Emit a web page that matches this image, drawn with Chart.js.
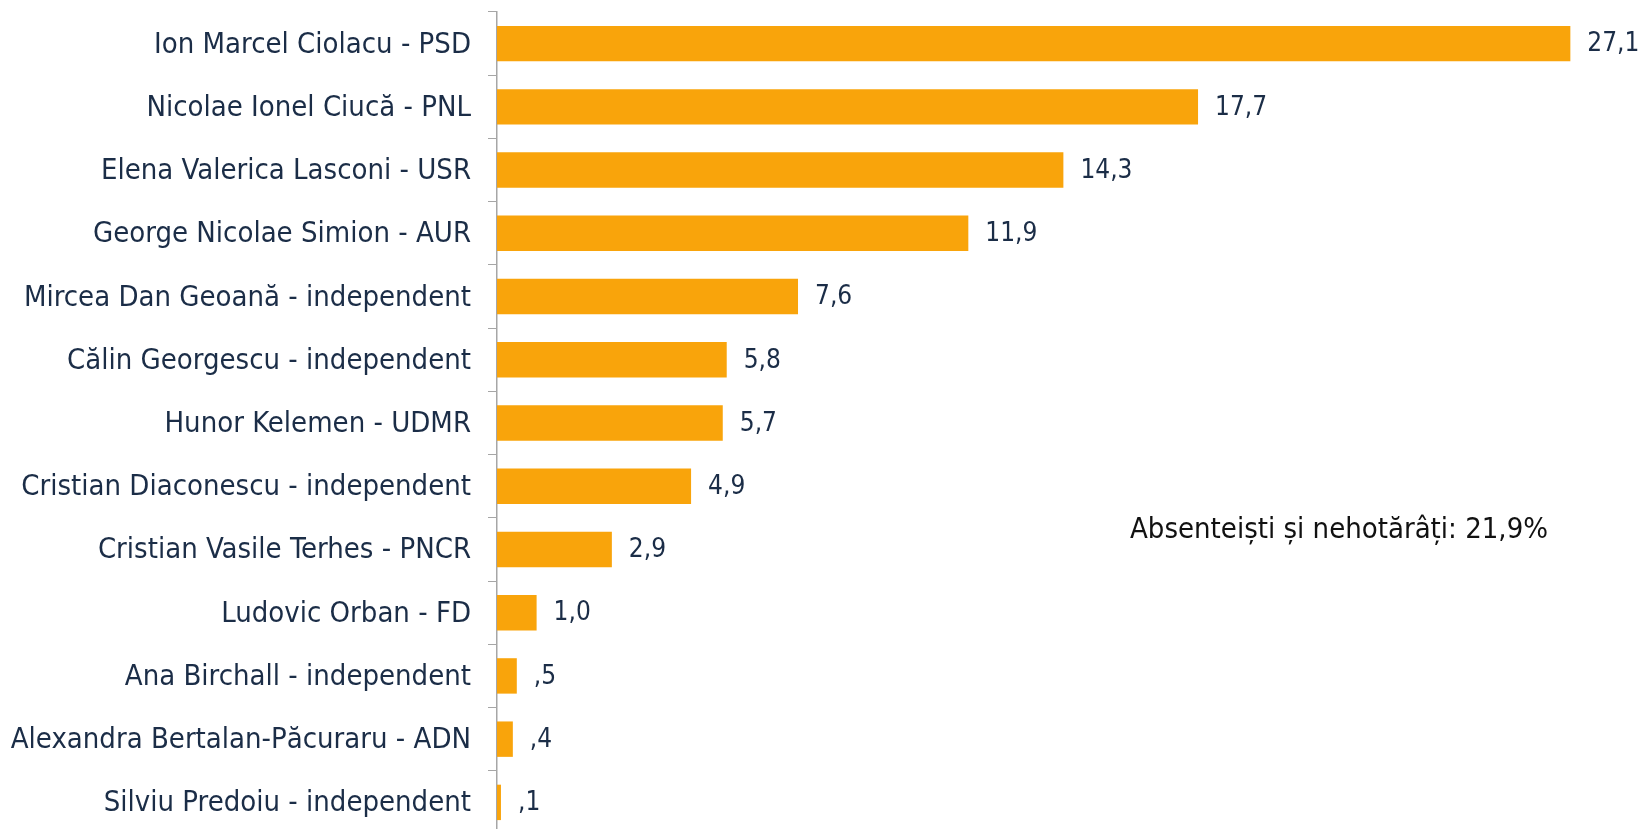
<!DOCTYPE html>
<html>
<head>
<meta charset="utf-8">
<script src="https://cdn.jsdelivr.net/npm/chart.js@4.4.1/dist/chart.umd.min.js"></script>
<style>
  html, body { margin: 0; padding: 0; background: #fff; overflow: hidden; }
  #wrap { position: relative; width: 1641px; height: 835px; }
</style>
</head>
<body>
<div id="wrap"><canvas id="chartSondaj"></canvas></div>
<script>
// date sondaj
const candidati = [
  "Ion Marcel Ciolacu - PSD",
  "Nicolae Ionel Ciucă - PNL",
  "Elena Valerica Lasconi - USR",
  "George Nicolae Simion - AUR",
  "Mircea Dan Geoană - independent",
  "Călin Georgescu - independent",
  "Hunor Kelemen - UDMR",
  "Cristian Diaconescu - independent",
  "Cristian Vasile Terhes - PNCR",
  "Ludovic Orban - FD",
  "Ana Birchall - independent",
  "Alexandra Bertalan-Păcuraru - ADN",
  "Silviu Predoiu - independent",
];
const procente = [27.1, 17.7, 14.3, 11.9, 7.6, 5.8, 5.7, 4.9, 2.9, 1.0, 0.5, 0.4, 0.1];
const nota = "Absenteiști și nehotărâți: 21,9%";

const FONT = "'DejaVu Sans Condensed', 'DejaVu Sans', sans-serif";
const textColor = "#1b2d47";

function formatVal(v) {
  // stil Excel: 0,5 -> ,5
  return v.toFixed(1).replace(".", ",").replace(/^0,/, ",");
}

// etichete valori la capatul barelor
const valueLabels = {
  id: "valueLabels",
  afterDatasetsDraw(chart) {
    const ctx = chart.ctx;
    const meta = chart.getDatasetMeta(0);
    ctx.save();
    ctx.font = "26px " + FONT;
    ctx.fillStyle = textColor;
    ctx.textBaseline = "middle";
    ctx.textAlign = "left";
    meta.data.forEach((bar, i) => {
      ctx.fillText(formatVal(procente[i]), bar.x + 17, bar.y + 1);
    });
    ctx.restore();
  },
};

// nota absenteisti
const notaPlugin = {
  id: "notaPlugin",
  afterDraw(chart) {
    const ctx = chart.ctx;
    ctx.save();
    ctx.font = "29px " + FONT;
    ctx.fillStyle = "#111";
    ctx.textBaseline = "middle";
    ctx.textAlign = "left";
    ctx.fillText(nota, 1130, 530);
    ctx.restore();
  },
};

const ctx = document.getElementById("chartSondaj");
new Chart(ctx, {
  type: "bar",
  data: {
    labels: candidati,
    datasets: [
      {
        data: procente,
        backgroundColor: "#f9a40b",
        borderWidth: 0,
        categoryPercentage: 1,
        barPercentage: 0.56,
      },
    ],
  },
  options: {
    indexAxis: "y",
    responsive: true,
    maintainAspectRatio: false,
    animation: false,
    layout: { padding: { top: 12, right: 35, bottom: 1, left: 0 } },
    plugins: {
      legend: { display: false },
      tooltip: { enabled: false },
    },
    scales: {
      x: {
        display: false,
        min: 0,
        max: 28,
      },
      y: {
        afterFit(scale) {
          scale.width = 497;
          scale.paddingTop = 0;
          scale.paddingBottom = 0;
        },
        grid: {
          offset: true,
          drawOnChartArea: false,
          drawTicks: true,
          tickLength: 9,
          color: "#a6a6a6",
        },
        border: { color: "#a6a6a6", width: 1.5 },
        ticks: {
          padding: 17,
          labelOffset: 1.5,
          color: textColor,
          font: { family: FONT, size: 29 },
        },
      },
    },
  },
  plugins: [valueLabels, notaPlugin],
});
</script>
</body>
</html>
